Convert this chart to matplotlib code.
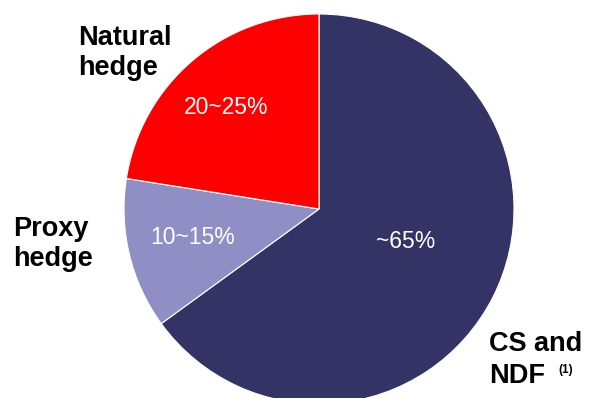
#!/usr/bin/env python3
"""Pie chart of hedging instruments split (CS/NDF, proxy hedge, natural hedge)."""

from matplotlib import pyplot as plt

SHARES = [65, 12.5, 22.5]
SLICE_LABELS = ["~65%", "10~15%", "20~25%"]
COLORS = ["#333366", "#8f8fc6", "#ff0000"]

plt.rcParams["font.family"] = ["Liberation Sans", "DejaVu Sans"]

fig = plt.figure(figsize=(5.92, 3.98), dpi=100)
ax = fig.add_axes([0, 0, 1, 1])

# pie centre and radius in pixel units (y up)
ax.pie(SHARES, colors=COLORS, startangle=90, counterclock=False,
       center=(319, 398 - 209), radius=195, frame=True,
       wedgeprops=dict(edgecolor="white", linewidth=0.8))
ax.set_xlim(0, 592)
ax.set_ylim(0, 398)
ax.axis("off")

# values inside slices
inner_pos = [(406, 398 - 242), (193, 398 - 238), (226, 398 - 107)]
for (x, y), txt in zip(inner_pos, SLICE_LABELS):
    ax.text(x, y, txt, color="white", fontsize=16.5, ha="center", va="center")

# outer category labels
ax.text(78, 398 - 53, "Natural\nhedge", fontsize=19.5, fontweight="bold",
        ha="left", va="center", linespacing=1.2)
ax.text(13, 398 - 244, "Proxy\nhedge", fontsize=19.5, fontweight="bold",
        ha="left", va="center", linespacing=1.2)
ax.text(489, 398 - 351, "CS and", fontsize=19.5, fontweight="bold",
        ha="left", va="baseline")
ax.text(489, 398 - 383, "NDF", fontsize=19.5, fontweight="bold",
        ha="left", va="baseline")
ax.text(558, 398 - 370, "(1)", fontsize=8.5, fontweight="bold",
        ha="left", va="center")

fig.savefig("out.png", dpi=100)
